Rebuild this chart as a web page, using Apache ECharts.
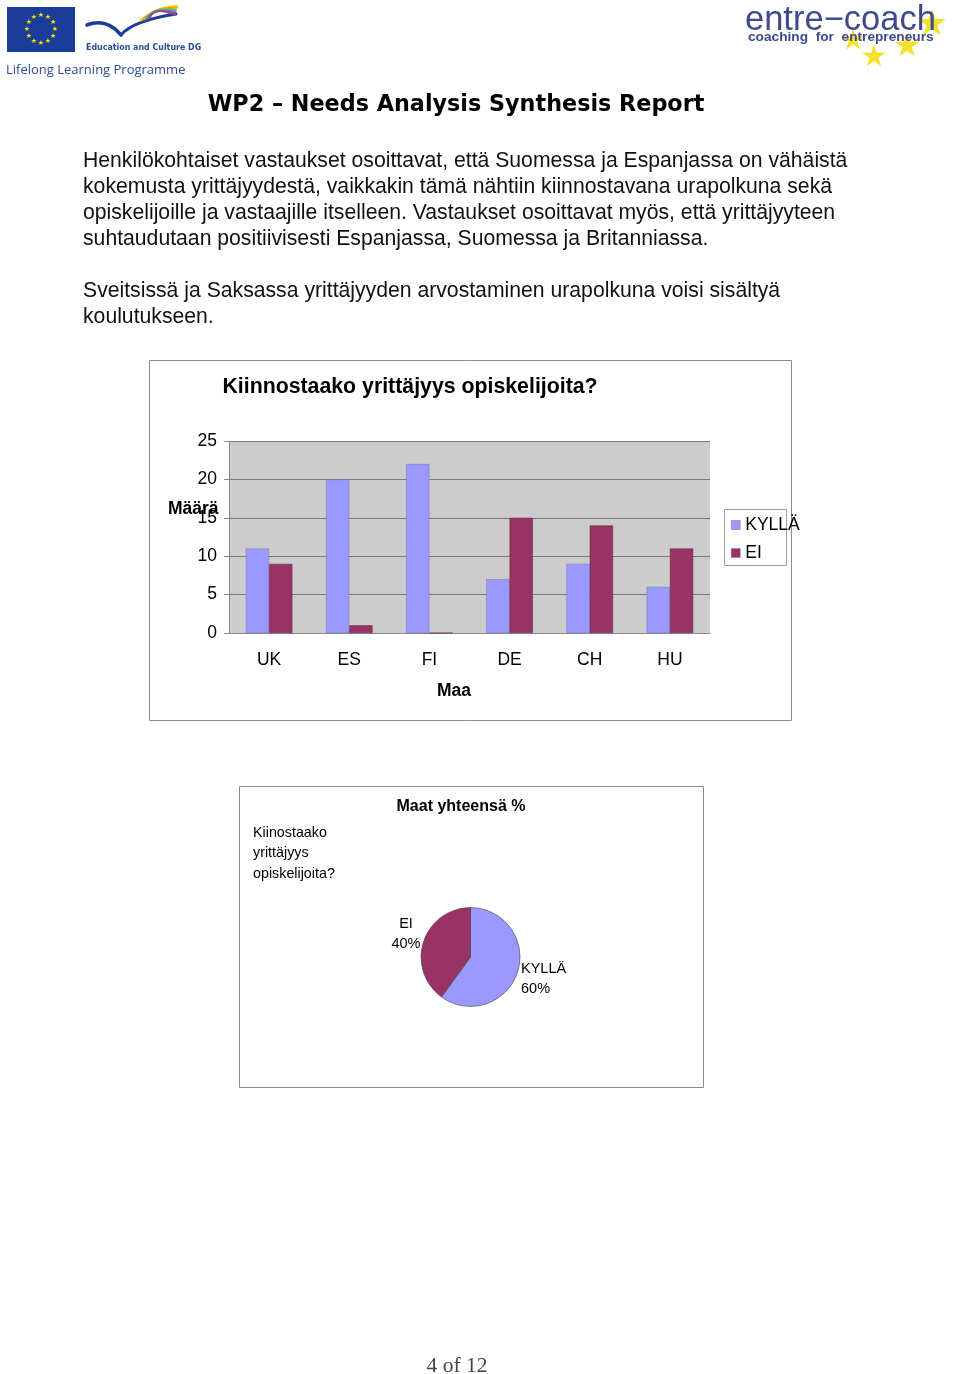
<!DOCTYPE html>
<html>
<head>
<meta charset="utf-8">
<script src="https://cdn.jsdelivr.net/npm/echarts@6/dist/echarts.min.js"></script>
<style>
html,body{margin:0;padding:0;background:#fff;}
#page{width:960px;height:1374px;}
</style>
</head>
<body>
<div id="page"></div>
<script>
// ---- data ----
const categories = ['UK', 'ES', 'FI', 'DE', 'CH', 'HU'];
const kyllaValues = [11, 20, 22, 7, 9, 6];
const eiValues = [9, 1, 0, 15, 14, 11];
const seriesNames = ['KYLLÄ', 'EI'];
const pieNames = ['KYLLÄ', 'EI'];
const pieValues = [60, 40];
const yTicks = { min: 0, max: 25, step: 5 };

const headerTitle = 'WP2 – Needs Analysis Synthesis Report';
const bodyLines = [
  'Henkilökohtaiset vastaukset osoittavat, että Suomessa ja Espanjassa on vähäistä',
  'kokemusta yrittäjyydestä, vaikkakin tämä nähtiin kiinnostavana urapolkuna sekä',
  'opiskelijoille ja vastaajille itselleen. Vastaukset osoittavat myös, että yrittäjyyteen',
  'suhtaudutaan positiivisesti Espanjassa, Suomessa ja Britanniassa.',
  '',
  'Sveitsissä ja Saksassa yrittäjyyden arvostaminen urapolkuna voisi sisältyä',
  'koulutukseen.'
];
const barTitle = 'Kiinnostaako yrittäjyys opiskelijoita?';
const yName = 'Määrä';
const xName = 'Maa';
const pieTitle = 'Maat yhteensä %';
const pieSubtitle = ['Kiinostaako', 'yrittäjyys', 'opiskelijoita?'];
const footer = '4 of 12';

const BLUE = '#9999ff', MAROON = '#993366';
const SANS = '"Liberation Sans", Arial, sans-serif';

const chart = echarts.init(document.getElementById('page'), null, {renderer: 'canvas'});

const g = [];
function txt(x, y, s, size, opts) {
  opts = opts || {};
  g.push({
    type: 'text', x: x, y: y, z: opts.z || 10,
    style: {
      text: s, fill: opts.fill || '#000',
      font: (opts.bold ? 'bold ' : '') + size + 'px ' + (opts.family || SANS),
      textAlign: opts.align || 'left', textVerticalAlign: 'middle'
    }
  });
}

// ---- EU logo ----
g.push({type: 'rect', shape: {x: 7, y: 7, width: 68, height: 45}, style: {fill: '#1a3d99'}});
for (let i = 0; i < 12; i++) {
  const a = i / 12 * Math.PI * 2;
  txt(41 + 14 * Math.cos(a), 29.5 + 14 * Math.sin(a), '★', 7, {fill: '#ffe000', align: 'center', family: 'DejaVu Sans'});
}
// bird swoosh
g.push({type: 'bezierCurve', shape: {x1: 87, y1: 25, x2: 121, y2: 35, cpx1: 100, cpy1: 20, cpx2: 112, cpy2: 24}, style: {stroke: '#1a3d99', lineWidth: 3.5, fill: null, lineCap: 'round'}});
g.push({type: 'bezierCurve', shape: {x1: 121, y1: 35, x2: 176, y2: 14, cpx1: 130, cpy1: 24, cpx2: 150, cpy2: 18}, style: {stroke: '#1a3d99', lineWidth: 3, fill: null, lineCap: 'round'}});
const swColors = ['#f2d100', '#f2a500', '#8fc03c', '#3a9ad8', '#d8386a', '#8a4aa8'];
swColors.forEach(function (c, i) {
  g.push({type: 'bezierCurve', shape: {x1: 140 + i * 2, y1: 21 - i * 0.5, x2: 178 - i * 0.5, y2: 6 + i * 1.8, cpx1: 152, cpy1: 10 - i * 0.5, cpx2: 165, cpy2: 6 + i}, style: {stroke: c, lineWidth: 1.8, fill: null}});
});
txt(86, 48, 'Education and Culture DG', 8.8, {fill: '#2a4a9a', bold: true, family: '"DejaVu Sans Condensed", "Open Sans", sans-serif'});
txt(6, 70, 'Lifelong Learning Programme', 13, {fill: '#2a4a9a', family: '"Open Sans", "DejaVu Sans", sans-serif'});

// ---- entre-coach logo ----
[[932, 26, 36], [853, 42, 28], [874, 58, 30], [907, 48, 32]].forEach(function (s) {
  txt(s[0], s[1], '★', s[2], {fill: '#f5e12a', align: 'center', family: 'DejaVu Sans', z: 5});
});
txt(745, 20, 'entre−coach', 34.5, {fill: '#3d4a8c', z: 11});
txt(748, 37, 'coaching  for  entrepreneurs', 13.7, {fill: '#3d4a8c', bold: true, z: 11});

// ---- document text ----
txt(456, 105.5, headerTitle, 22.3, {bold: true, align: 'center', family: '"DejaVu Sans", Verdana, sans-serif'});
bodyLines.forEach(function (l, i) {
  if (l) txt(83, 161 + i * 26, l, 21.2, {fill: '#111'});
});
txt(457, 1366, footer, 21.5, {family: '"Liberation Serif", serif', align: 'center', fill: '#444'});

// ---- bar chart frame + texts ----
g.push({type: 'rect', shape: {x: 149.5, y: 360.5, width: 642, height: 360}, style: {fill: null, stroke: '#8a8a8a', lineWidth: 1}, z: 1});
txt(410, 387, barTitle, 21.3, {bold: true, align: 'center'});
txt(168, 509, yName, 17.5, {bold: true});
txt(454, 691, xName, 17.5, {bold: true, align: 'center'});
// legend frame
g.push({type: 'rect', shape: {x: 724.5, y: 509.5, width: 62, height: 56}, style: {fill: null, stroke: '#a0a0a0', lineWidth: 1}, z: 1});

// ---- pie frame + texts ----
g.push({type: 'rect', shape: {x: 239.5, y: 786.5, width: 464, height: 301}, style: {fill: null, stroke: '#8a8a8a', lineWidth: 1}, z: 1});
txt(461, 807, pieTitle, 16, {bold: true, align: 'center'});
pieSubtitle.forEach(function (l, i) { txt(253, 833 + i * 20.5, l, 14.3); });

const pieLabelPos = {'KYLLÄ': {x: 521, y: 979, align: 'left'}, 'EI': {x: 406, y: 934, align: 'center'}};

const option = {
  animation: false,
  backgroundColor: '#fff',
  textStyle: {fontFamily: SANS},
  grid: {left: 229, top: 441, width: 481, height: 192, show: true, backgroundColor: '#cccccc', borderWidth: 0},
  legend: {
    data: seriesNames, orient: 'vertical', left: 731, top: 516,
    padding: 0, itemGap: 10, itemWidth: 9, itemHeight: 9, icon: 'rect',
    itemStyle: {borderColor: '#7070a0', borderWidth: 0.5},
    textStyle: {fontSize: 17.5, color: '#000', fontFamily: SANS, padding: [0, 0, 0, 0]}
  },
  xAxis: {
    type: 'category', data: categories,
    axisLine: {lineStyle: {color: '#888'}},
    axisTick: {length: 5, lineStyle: {color: '#888'}},
    axisLabel: {fontSize: 17.5, color: '#000', margin: 18, fontFamily: SANS}
  },
  yAxis: {
    type: 'value', min: yTicks.min, max: yTicks.max, interval: yTicks.step,
    axisLine: {show: true, lineStyle: {color: '#888'}},
    axisTick: {show: true, length: 5, lineStyle: {color: '#888'}},
    axisLabel: {fontSize: 17.5, color: '#000', margin: 12, fontFamily: SANS},
    splitLine: {lineStyle: {color: '#7a7a7a'}}
  },
  series: [
    {name: seriesNames[0], type: 'bar', data: kyllaValues, barGap: '0%', barCategoryGap: '42%',
     itemStyle: {color: BLUE, borderColor: '#7070b0', borderWidth: 0.5}},
    {name: seriesNames[1], type: 'bar', data: eiValues,
     itemStyle: {color: MAROON, borderColor: '#5a2040', borderWidth: 0.5}},
    {type: 'pie', center: [470.5, 957], radius: 49.5, startAngle: 90, clockwise: true,
     legendHoverLink: false,
     data: pieNames.map(function (n, i) { return {name: n, value: pieValues[i], itemStyle: {color: i === 0 ? BLUE : MAROON}}; }),
     itemStyle: {borderColor: '#444', borderWidth: 0.6},
     label: {show: true, position: 'outside', formatter: '{b}\n{c}%', fontSize: 14.5, lineHeight: 20.5, color: '#000', fontFamily: SANS},
     labelLine: {show: false},
     labelLayout: function (p) {
       const pos = pieLabelPos[pieNames[p.dataIndex]];
       return {x: pos.x, y: pos.y, align: pos.align, verticalAlign: 'middle'};
     }
    }
  ],
  graphic: g
};
chart.setOption(option);
</script>
</body>
</html>
